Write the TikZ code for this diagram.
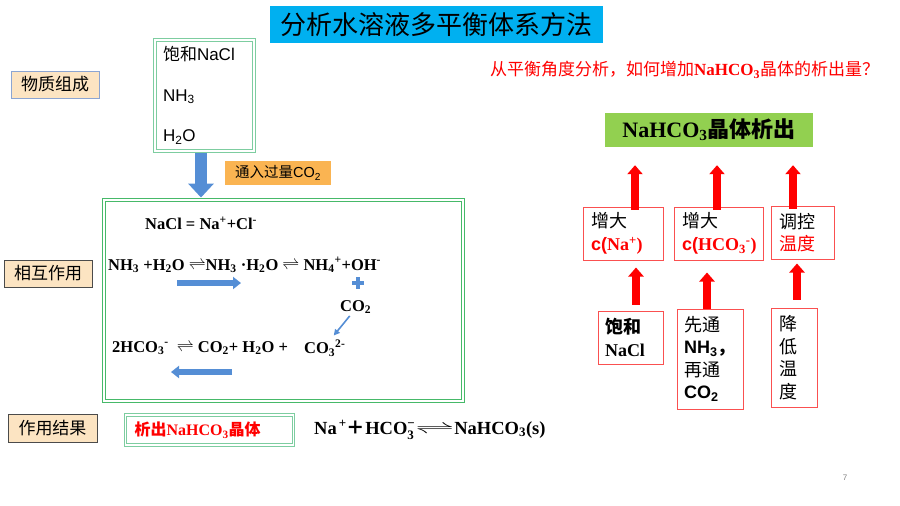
\documentclass[tikz,border=0pt]{standalone}
\usepackage{amsmath}
\usepackage{fontspec}
\setmainfont{Liberation Sans}
\newfontfamily\cjk{Noto Sans CJK SC}
\newfontfamily\tnr{Liberation Serif}
\usetikzlibrary{positioning}
\usetikzlibrary{arrows.meta}

\definecolor{titlecyan}{RGB}{0,176,240}
\definecolor{peach}{RGB}{252,228,194}
\definecolor{boxorange}{RGB}{250,180,82}
\definecolor{mixgreen}{RGB}{146,208,80}
\definecolor{framegreen}{RGB}{70,185,105}
\definecolor{palegreen}{RGB}{125,205,160}
\definecolor{arrowblue}{RGB}{85,142,213}
\definecolor{boxred}{RGB}{250,80,80}
\definecolor{tagblue}{RGB}{140,165,210}
\definecolor{tagdark}{RGB}{75,75,75}

\tikzset{
  tag/.style={draw=#1, fill=peach, line width=0.9pt, minimum width=88pt, minimum height=27pt, inner sep=0pt, font=\cjk\fontsize{17}{20}\selectfont},
  twoline/.style={draw=#1, double=white, double distance=1.6pt, line width=0.9pt},
  eqn/.style={anchor=west, inner sep=0pt, font=\tnr\bfseries\fontsize{16.5}{19}\selectfont},
  redbox/.style={draw=boxred, line width=1pt, align=left, inner xsep=8pt, inner ysep=0pt, font=\fontsize{18}{22.5}\selectfont},
  redup/.style={red, line width=8pt, -{Triangle[width=15pt,length=9pt]}},
  blueflat/.style={arrowblue, line width=6pt, -{Triangle[width=12pt,length=8pt]}},
}

\begin{document}
\begin{tikzpicture}[x=1pt, y=-1pt]
\useasboundingbox (0,0) rectangle (900,506);

% title and question
\node[fill=titlecyan, minimum width=333pt, minimum height=37pt, inner sep=0pt, font=\cjk\fontsize{26}{30}\selectfont] (title) at (436.5,24.5) {分析水溶液多平衡体系方法};
\node[anchor=west, inner sep=0pt, text=red, font=\fontsize{17}{20}\selectfont] (ask) at (490,70) {{\cjk 从平衡角度分析，如何增加}{\tnr\bfseries NaHCO\textsubscript{3}}{\cjk 晶体的析出量？}};

% left column labels
\node[tag=tagblue] (phys) at (55,84.5) {物质组成};
\node[tag=tagdark] (inter) at (48,273.5) {相互作用};
\node[tag=tagdark, minimum width=89pt, minimum height=28pt] (result) at (52.5,428) {作用结果};

% composition
\node[twoline=palegreen, minimum width=99pt, minimum height=111pt, text width=83pt, inner xsep=8pt, align=left, font=\fontsize{17}{40.5}\selectfont] (comp) at (204.5,95.5) {{\cjk 饱和}NaCl\\NH\textsubscript{3}\\H\textsubscript{2}O};
\node[fill=boxorange, minimum width=106pt, minimum height=24pt, inner sep=0pt, font=\fontsize{14.5}{17}\selectfont] (gas) at (278,173) {{\cjk 通入过量}CO\textsubscript{2}};

% equilibria
\node[twoline=framegreen, minimum width=359pt, minimum height=201pt] (react) at (283.5,300.5) {};
\draw[arrowblue, line width=12pt, -{Triangle[width=25pt,length=14pt]}, shorten <=2pt, shorten >=2pt] ([xshift=-3.5pt]comp.south) -- ([xshift=-3.5pt]comp.south |- react.north);
\node[eqn] (eq1) at (145,223) {NaCl = Na\textsuperscript{+}+Cl\textsuperscript{-}};
\node[eqn] (eq2) at (108,265) {NH\textsubscript{3} +H\textsubscript{2}O $\rightleftharpoons$NH\textsubscript{3} ·H\textsubscript{2}O $\rightleftharpoons$ NH\textsubscript{4}\textsuperscript{+}+OH\textsuperscript{-}};
\node[eqn] (co2) at (340,307) {CO\textsubscript{2}};
\node[eqn] (eq3) at (112,348) {2HCO\textsubscript{3}\textsuperscript{-}\enspace $\rightleftharpoons$ CO\textsubscript{2}+ H\textsubscript{2}O +};
\node[eqn] (co3) at (304,348) {CO\textsubscript{3}\textsuperscript{2-}};
\coordinate (fwdA) at (177,283);
\coordinate (fwdB) at (241,283);
\coordinate (bckA) at (232,372);
\coordinate (bckB) at (171,372);
\draw[blueflat] (fwdA) -- (fwdB);
\draw[blueflat] (bckA) -- (bckB);
\draw[arrowblue, line width=4pt] (352,283) -- (364,283) (358,277) -- (358,289);
\draw[arrowblue, line width=1.6pt, -{Triangle[width=6pt,length=6pt]}] ([xshift=-6pt,yshift=-2pt]co2.south) -- ([xshift=9pt,yshift=4pt]co3.north);

% outcome
\node[twoline=palegreen, minimum width=168pt, minimum height=30pt, inner xsep=7pt, inner ysep=0pt, text width=150pt, align=left, text=red, font=\bfseries\fontsize{16}{19}\selectfont] (crystal) at (209.5,430) {{\cjk 析出}{\tnr NaHCO\textsubscript{3}}{\cjk 晶体}};
\node[eqn, font=\tnr\bfseries\fontsize{18.5}{21}\selectfont] (net) at (314,430) {Na\textsuperscript{\,+}{\cjk ＋}HCO$_{\textbf{3}}^{\textbf{−}}$\scalebox{2.3}[1]{$\rightleftharpoons$}NaHCO\textsubscript{3}(s)};

% right side
\node[fill=mixgreen, minimum width=208pt, minimum height=34pt, inner sep=0pt, font=\bfseries\fontsize{22}{25}\selectfont] (goal) at (709,130) {{\tnr NaHCO\textsubscript{3}}{\cjk 晶体析出}};
\node[redbox, text width=64pt, minimum height=53pt] (na) at (623,233.5) {{\cjk 增大}\\\textcolor{red}{\bfseries c({\tnr Na\textsuperscript{+})}}};
\node[redbox, text width=73pt, minimum height=53pt] (hco) at (718.5,233.5) {{\cjk 增大}\\\textcolor{red}{\bfseries c({\tnr HCO\textsubscript{3}\textsuperscript{-})}}};
\node[redbox, text width=46pt, minimum height=53pt, inner xsep=8.5pt] (temp) at (802.5,232.5) {{\cjk 调控}\\\textcolor{red}{\cjk 温度}};
\node[redbox, text width=51pt, minimum height=53pt, inner xsep=7pt] (sat) at (630.5,337.5) {{\cjk\bfseries 饱和}\\{\tnr\bfseries NaCl}};
\node[redbox, text width=52pt, minimum height=100pt, inner xsep=7pt] (seq) at (710,359) {{\cjk 先通}\\\textbf{NH\textsubscript{3}{\cjk ，}}\\{\cjk 再通}\\\textbf{CO\textsubscript{2}}};
\node[redbox, text width=30pt, minimum height=99pt] (cool) at (794,357.5) {\cjk 降\\低\\温\\度};

\draw[redup, shorten <=-3pt, shorten >=18pt] ([xshift=12pt]na.north) -- ([xshift=12pt]na.north |- goal.south);
\draw[redup, shorten <=-3pt, shorten >=18pt] ([xshift=-1.5pt]hco.north) -- ([xshift=-1.5pt]hco.north |- goal.south);
\draw[redup, shorten <=-3pt, shorten >=18pt] ([xshift=-9.5pt]temp.north) -- ([xshift=-9.5pt]temp.north |- goal.south);
\draw[redup, shorten <=6pt, shorten >=7pt] ([xshift=5.5pt]sat.north) -- ([xshift=5.5pt]sat.north |- na.south);
\draw[redup, shorten >=12pt] ([xshift=-3pt]seq.north) -- ([xshift=-3pt]seq.north |- hco.south);
\draw[redup, shorten <=8pt, shorten >=4pt] ([xshift=3pt]cool.north) -- ([xshift=3pt]cool.north |- temp.south);

\node[text=gray, font=\fontsize{8}{10}\selectfont] (page) at (845,478) {7};
\end{tikzpicture}
\end{document}
